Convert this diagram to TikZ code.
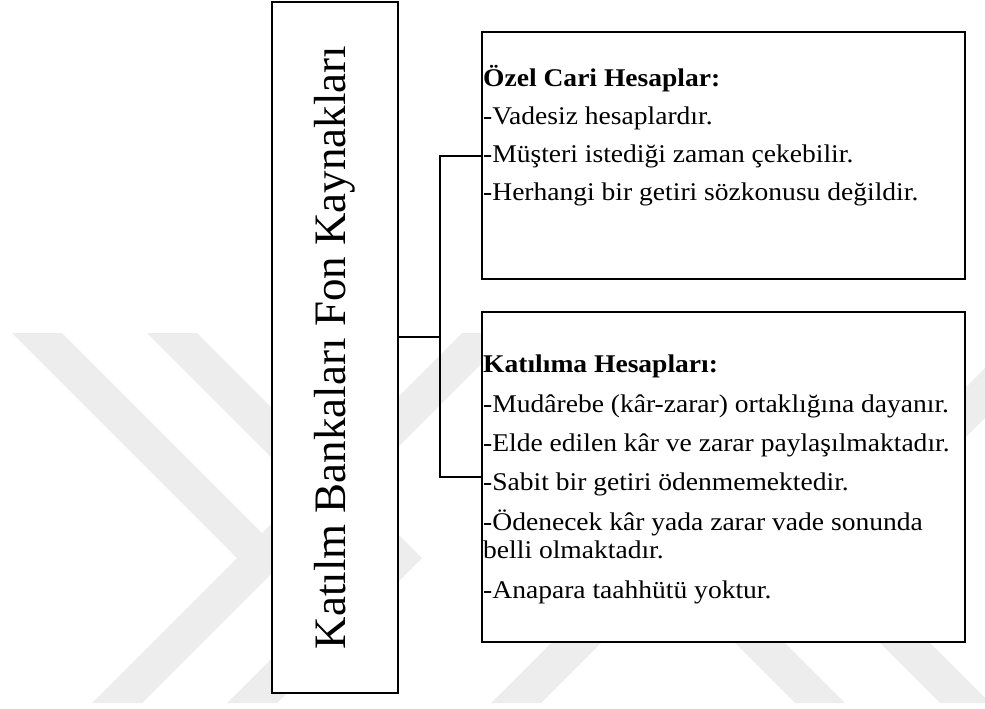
\documentclass[tikz,border=0pt]{standalone}
\usepackage{fontspec}
\setmainfont{Liberation Serif}
\newfontfamily\boxfont[FakeStretch=1.08]{Liberation Serif}
\begin{document}
\begin{tikzpicture}[x=1pt,y=-1pt,
    line/.style={line width=2pt},
    panel/.style={draw,line width=2pt,fill=white,inner sep=0pt},
    items/.style={inner sep=0pt,align=left,
      font=\boxfont\fontsize{25.5}{28.4}\selectfont},
    wmark/.style={fill=black!7,draw=none}]
    \useasboundingbox (0,0) rectangle (985,709);
    % watermark
    \begin{scope}
      \clip (0,0) rectangle (985,709);
      \fill[wmark] (12,333) -- (62,333) -- (287,558) -- (237,558) -- cycle;
      \fill[wmark] (92,703) -- (142,703) -- (512,333) -- (462,333) -- cycle;
      \fill[wmark] (147,333) -- (197,333) -- (422,558) -- (277,703) -- (227,703) -- (372,558) -- cycle;
      \fill[wmark] (491,703) -- (541,703) -- (911,333) -- (861,333) -- cycle;
      \fill[wmark] (925,333) -- (875,333) -- (650,558) -- (795,703) -- (845,703) -- (700,558) -- cycle;
      \fill[wmark] (1070,333) -- (1020,333) -- (795,558) -- (940,703) -- (990,703) -- (845,558) -- cycle;
    \end{scope}
    \node[panel,minimum width=126,minimum height=691] (fund) at (335,347.5)
      {\rotatebox{90}{\fontsize{45}{54}\selectfont Katılm Bankaları Fon Kaynakları}};
    \node[panel,minimum width=483,minimum height=247] (ozel) at (723.5,155.5) {};
    \node[panel,minimum width=483,minimum height=330] (katilim) at (723.5,477) {};
    % base of a multi-line node = last line
    \node[items,anchor=base west] (ozeltxt) at (483,200)
      {\textbf{Özel Cari Hesaplar:}\\[9.5pt]
       -Vadesiz hesaplardır.\\[9.5pt]
       -Müşteri istediği zaman çekebilir.\\[9.5pt]
       -Herhangi bir getiri sözkonusu değildir.};
    \node[items,anchor=base west] (katilimtxt) at (483,598)
      {\textbf{Katılıma Hesapları:}\\[11pt]
       -Mudârebe (kâr-zarar) ortaklığına dayanır.\\[11pt]
       -Elde edilen kâr ve zarar paylaşılmaktadır.\\[11pt]
       -Sabit bir getiri ödenmemektedir.\\[11pt]
       -Ödenecek kâr yada zarar vade sonunda\\
       belli olmaktadır.\\[11pt]
       -Anapara taahhütü yoktur.};
    \coordinate (split) at (440,337);
    \draw[line] (fund.east |- split) -- (split);
    \draw[line] (ozel.west) -| (split) |- (katilim.west);
\end{tikzpicture}
\end{document}
